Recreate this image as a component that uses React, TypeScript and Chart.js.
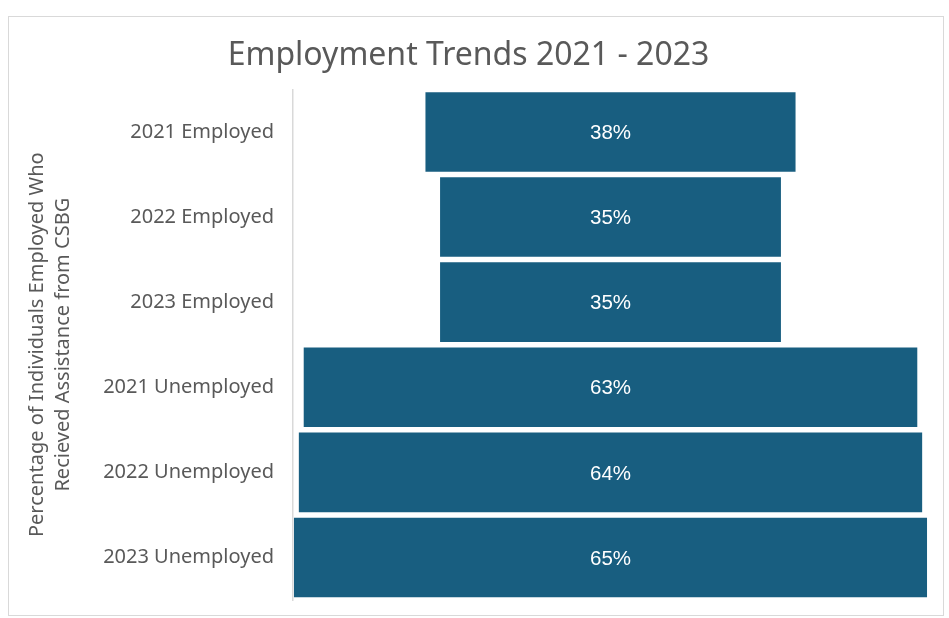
import { useEffect, useRef } from 'react'
import { Chart, registerables } from 'chart.js'

Chart.register(...registerables)

const stages = [
  '2021 Employed', '2022 Employed', '2023 Employed',
  '2021 Unemployed', '2022 Unemployed', '2023 Unemployed',
]
const shares = [38, 35, 35, 63, 64, 65]

const chartTitle = 'Employment Trends 2021 - 2023'
const axisTitle = ['Percentage of Individuals Employed Who', 'Recieved Assistance from CSBG']

const FONT = "'Noto Sans', sans-serif"
const GRAY = '#595959'
const maxShare = Math.max(...shares)
const mid = maxShare / 2

// writes the value in the middle of each funnel bar
const barLabels = {
  id: 'barLabels',
  afterDatasetsDraw(chart: Chart) {
    const { ctx } = chart
    const meta = chart.getDatasetMeta(0)
    ctx.save()
    ctx.fillStyle = '#ffffff'
    ctx.font = "20.5px 'Liberation Sans', Arial, sans-serif"
    ctx.textAlign = 'center'
    ctx.textBaseline = 'middle'
    meta.data.forEach((el: any, i: number) => {
      ctx.fillText(`${shares[i]}%`, (el.x + el.base) / 2, el.y + 1.5)
    })
    ctx.restore()
  },
}

export default function App() {
  const canvasRef = useRef<HTMLCanvasElement>(null)
  const chartRef = useRef<Chart | null>(null)

  useEffect(() => {
    document.body.style.margin = '0'
    if (!canvasRef.current) return
    chartRef.current?.destroy()
    chartRef.current = new Chart(canvasRef.current, {
      type: 'bar',
      data: {
        labels: stages,
        datasets: [{
          data: shares.map(v => [mid - v / 2, mid + v / 2]) as any,
          backgroundColor: '#185e80',
          borderWidth: 0,
          categoryPercentage: 1,
          barPercentage: 0.935,
        }],
      },
      options: {
        indexAxis: 'y',
        animation: false,
        responsive: false,
        layout: { padding: { top: 0, right: 15, bottom: 15, left: 0 } },
        plugins: {
          legend: { display: false },
          tooltip: { enabled: false },
          title: {
            display: true,
            text: chartTitle,
            color: GRAY,
            font: { family: FONT, size: 32, weight: 'normal' },
            padding: { top: 20, bottom: 14 },
          },
        },
        scales: {
          x: { display: false, min: -0.1, max: maxShare + 0.1 },
          y: {
            // fixed axis width, and no extra room above/below the bars
            afterFit: (s: any) => { s.width = 284; s.paddingTop = 0; s.paddingBottom = 0 },
            grid: { display: false, drawTicks: false },
            border: { display: true, color: '#d9d9d9', width: 1.5 },
            ticks: { color: GRAY, padding: 19, font: { family: FONT, size: 20 } },
            title: {
              display: true,
              text: axisTitle,
              color: GRAY,
              font: { family: FONT, size: 20, lineHeight: 1.3 },
              padding: { top: 15, bottom: 0 },
            },
          },
        },
      },
      plugins: [barLabels],
    })
    return () => chartRef.current?.destroy()
  }, [])

  return (
    <div style={{ position: 'absolute', left: 8, top: 16, width: 934, height: 598, border: '1px solid #d9d9d9', background: '#fff' }}>
      <canvas ref={canvasRef} width={934} height={598} style={{ display: 'block' }} />
    </div>
  )
}
